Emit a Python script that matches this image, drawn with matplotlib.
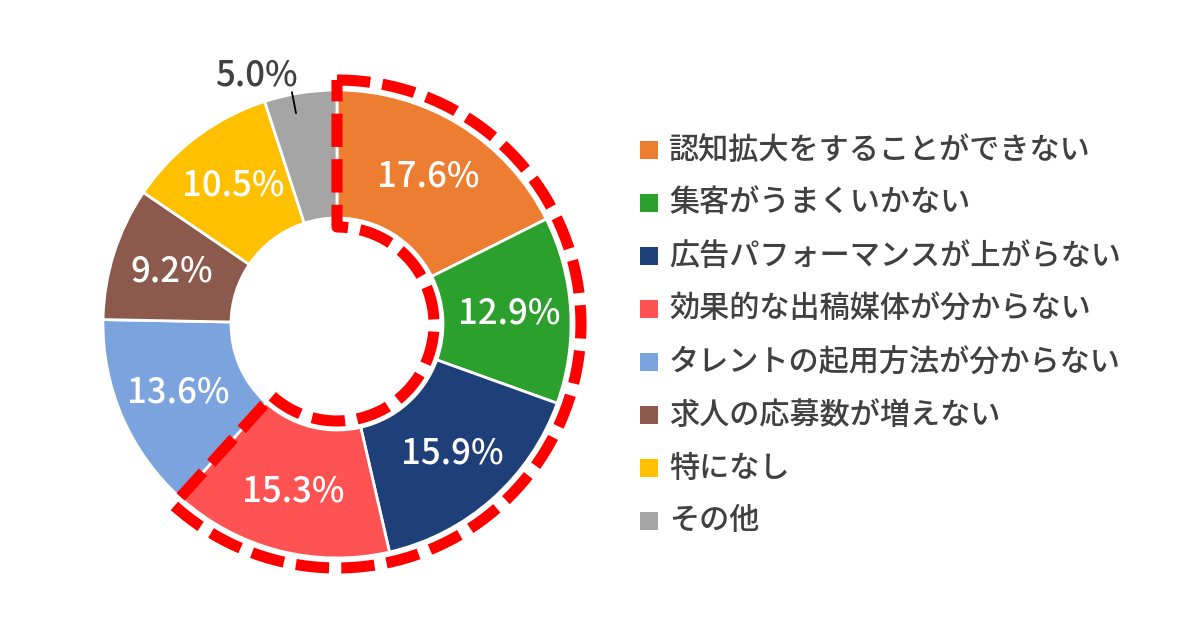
import numpy as np
import matplotlib
matplotlib.use("Agg")
import matplotlib.pyplot as plt

plt.rcParams['font.family'] = ['Noto Sans CJK JP', 'DejaVu Sans']

# データ
categories = ["認知拡大をすることができない", "集客がうまくいかない", "広告パフォーマンスが上がらない",
              "効果的な出稿媒体が分からない", "タレントの起用方法が分からない", "求人の応募数が増えない",
              "特になし", "その他"]
values = [17.6, 12.9, 15.9, 15.3, 13.6, 9.2, 10.5, 5.0]
colors = ["#ED7D31", "#2CA02C", "#1F3F78", "#FF5252", "#7BA3DE", "#8B5A4C", "#FFC000", "#A5A5A5"]
n_highlight = 4  # 赤い破線で囲む項目数

cx, cy = 337, 306      # 中心（ピクセル座標, y は上向き）
r_out, r_in = 234, 106

fig = plt.figure(figsize=(12, 6.3), dpi=100)
ax = fig.add_axes([0, 0, 1, 1])

wedges, _ = ax.pie(values, colors=colors, startangle=90, counterclock=False,
                   radius=r_out, center=(cx, cy),
                   wedgeprops=dict(width=r_out - r_in, edgecolor="white", linewidth=2))

# ラベル
r_lab = (r_out + r_in) / 2 + 3
start = 90.0
for v in values:
    mid = np.deg2rad(start - v * 3.6 / 2)
    if v >= 6:
        ax.text(cx + r_lab * np.cos(mid), cy + r_lab * np.sin(mid), f"{v:.1f}%",
                color="white", fontsize=25, fontweight="medium", ha="center", va="center")
    else:
        a = mid + np.deg2rad(2)
        ax.plot([cx + 215 * np.cos(a), cx + 236 * np.cos(a)],
                [cy + 215 * np.sin(a), cy + 236 * np.sin(a)], color="black", lw=1.3)
        b = mid + np.deg2rad(9)
        ax.text(cx + 262 * np.cos(b), cy + 261 * np.sin(b), f"{v:.1f}%",
                color="#404040", fontsize=25, fontweight="medium", ha="center", va="center")
    start -= v * 3.6

# 赤い破線の枠
a0 = 90.0
a1 = 90.0 - sum(values[:n_highlight]) * 3.6
ro, ri = 244, 97
t_out = np.deg2rad(np.linspace(a0, a1, 200))
t_in = t_out[::-1]
xs = np.concatenate([cx + ro * np.cos(t_out), cx + ri * np.cos(t_in), [cx + ro * np.cos(t_out[0])]])
ys = np.concatenate([cy + ro * np.sin(t_out), cy + ri * np.sin(t_in), [cy + ro * np.sin(t_out[0])]])
ax.plot(xs, ys, color="#FF0000", lw=8, dashes=(3, 1.1), solid_capstyle="butt",
        dash_capstyle="butt", zorder=5)

# 凡例
y0, dy = 630 - 150, 53
for i, (lab, c) in enumerate(zip(categories, colors)):
    y = y0 - i * dy
    ax.scatter([649], [y], marker="s", s=150, color=c, edgecolors="none")
    ax.text(669, y, lab, fontsize=21.7, fontweight="medium", color="#404040", ha="left", va="center")

ax.set_xlim(0, 1200)
ax.set_ylim(0, 630)
ax.set_aspect("auto")
ax.axis("off")

fig.savefig("out.png", dpi=100, facecolor="white")
